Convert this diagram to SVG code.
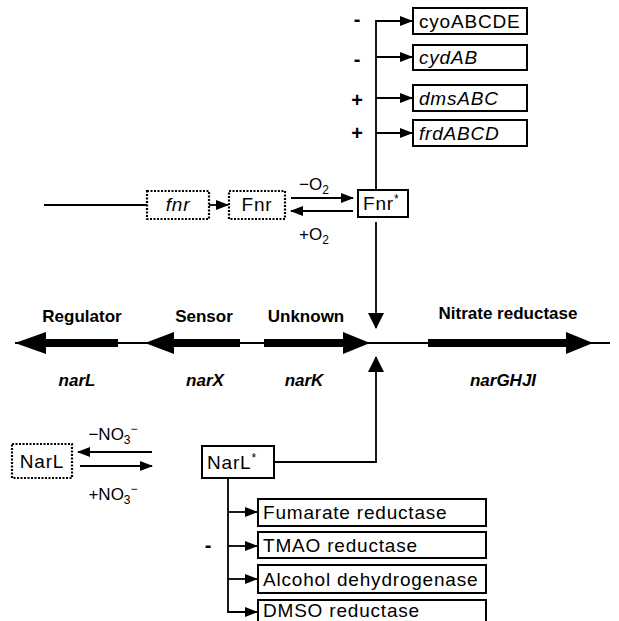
<svg xmlns="http://www.w3.org/2000/svg" width="619" height="621" viewBox="0 0 619 621">
<style>
text{font-family:"Liberation Sans",Arial,sans-serif;font-size:19px;fill:#000;letter-spacing:0.8px}
.it{font-style:italic}
.c{text-anchor:middle}
.lb{font-size:17px;font-weight:bold;letter-spacing:0}
.sg{font-size:20px;font-weight:bold;letter-spacing:0}
.eq{font-size:17px;letter-spacing:0}
.box{fill:#fff;stroke:#000;stroke-width:2}
.dot{fill:#fff;stroke:#000;stroke-width:2.2;stroke-dasharray:2 1.5}
.ln{fill:none;stroke:#000;stroke-width:1.8}
.thick{fill:#000;stroke:none}
.sup{font-size:12px;letter-spacing:0}
</style>
<defs>
<marker id="ah" markerWidth="13" markerHeight="10" refX="12" refY="5" orient="auto" markerUnits="userSpaceOnUse">
<path d="M0,0 L13,5 L0,10 Z" fill="#000"/>
</marker>
<marker id="ahb" markerWidth="16" markerHeight="16" refX="15" refY="8" orient="auto" markerUnits="userSpaceOnUse">
<path d="M0,0 L16,8 L0,16 Z" fill="#000"/>
</marker>
</defs>

<g id="connectors">
<path class="ln" d="M376,190 V21 H412" marker-end="url(#ah)"/>
<path class="ln" d="M376,57 H412" marker-end="url(#ah)"/>
<path class="ln" d="M376,98 H412" marker-end="url(#ah)"/>
<path class="ln" d="M376,133 H412" marker-end="url(#ah)"/>
<path class="ln" d="M44,205 H147"/>
<path class="ln" d="M209,205 H228" marker-end="url(#ah)"/>
<path class="ln" d="M291,198 H353" marker-end="url(#ah)"/>
<path class="ln" d="M353,211 H291" marker-end="url(#ah)"/>
<path class="ln" d="M376,222 V328" marker-end="url(#ahb)"/>
<path class="ln" d="M15,343 H610"/>
<polygon class="thick" points="15,343 46,332 46,339 118,339 118,347 46,347 46,354"/>
<polygon class="thick" points="145,343 174,332 174,339 240,339 240,347 174,347 174,354"/>
<polygon class="thick" points="370,343 343,332 343,339 264,339 264,347 343,347 343,354"/>
<polygon class="thick" points="593,343 566,332 566,339 428,339 428,347 566,347 566,354"/>
<path class="ln" d="M274,462 H376 V357" marker-end="url(#ahb)"/>
<path class="ln" d="M152,452 H78" marker-end="url(#ah)"/>
<path class="ln" d="M80,466 H152" marker-end="url(#ah)"/>
<path class="ln" d="M228,478 V612 H257" marker-end="url(#ah)"/>
<path class="ln" d="M228,512 H257" marker-end="url(#ah)"/>
<path class="ln" d="M228,546 H257" marker-end="url(#ah)"/>
<path class="ln" d="M228,579 H257" marker-end="url(#ah)"/>
</g>

<g id="cyoABCDE"><rect class="box" x="413" y="8" width="114" height="26"/><text x="419" y="28">cyoABCDE</text></g>
<g id="cydAB"><rect class="box" x="413" y="45" width="114" height="25"/><text class="it" x="419" y="64">cydAB</text></g>
<g id="dmsABC"><rect class="box" x="413" y="85" width="114" height="26"/><text class="it" x="419" y="105">dmsABC</text></g>
<g id="frdABCD"><rect class="box" x="413" y="120" width="114" height="26"/><text class="it" x="419" y="140">frdABCD</text></g>
<g id="signs-top">
<text class="c sg" x="357" y="26">-</text>
<text class="c sg" x="357" y="66">-</text>
<text class="c sg" x="357" y="107">+</text>
<text class="c sg" x="357" y="140">+</text>
</g>

<g id="fnr-gene"><rect class="dot" x="147" y="191" width="62" height="28"/><text class="it c" x="178" y="211">fnr</text></g>
<g id="Fnr"><rect class="dot" x="229" y="191" width="56" height="28"/><text class="c" x="257" y="211">Fnr</text></g>
<g id="Fnr-active"><rect class="box" x="358" y="190" width="50" height="27"/><text x="363" y="210">Fnr<tspan class="sup" dy="-7">*</tspan></text></g>
<g id="O2-labels">
<text class="c eq" x="314" y="190">−O<tspan class="sup" dy="4">2</tspan></text>
<text class="c eq" x="314" y="240">+O<tspan class="sup" dy="4">2</tspan></text>
</g>

<g id="gene-labels">
<text class="c lb" x="82" y="322">Regulator</text>
<text class="c lb" x="204" y="322">Sensor</text>
<text class="c lb" x="306" y="322">Unknown</text>
<text class="c lb" x="508" y="319">Nitrate reductase</text>
<text class="c it lb" x="77" y="386">narL</text>
<text class="c it lb" x="205" y="386">narX</text>
<text class="c it lb" x="304" y="386">narK</text>
<text class="c it lb" x="503" y="386">narGHJI</text>
</g>

<g id="NarL"><rect class="dot" x="12" y="444" width="60" height="34"/><text class="c" x="42" y="468">NarL</text></g>
<g id="NO3-labels">
<text class="c eq" x="113" y="440">−NO<tspan class="sup" dy="4">3</tspan><tspan class="sup" dy="-11">−</tspan></text>
<text class="c eq" x="113" y="500">+NO<tspan class="sup" dy="4">3</tspan><tspan class="sup" dy="-11">−</tspan></text>
</g>
<g id="NarL-active"><rect class="box" x="202" y="446" width="72" height="32"/><text x="207" y="469">NarL<tspan class="sup" dy="-7">*</tspan></text></g>

<g id="fumarate"><rect class="box" x="258" y="499" width="228" height="27"/><text x="263" y="519">Fumarate reductase</text></g>
<g id="tmao"><rect class="box" x="258" y="532" width="228" height="26"/><text x="263" y="552">TMAO reductase</text></g>
<g id="alcohol"><rect class="box" x="258" y="565" width="228" height="28"/><text x="263" y="586">Alcohol dehydrogenase</text></g>
<g id="dmso"><rect class="box" x="258" y="600" width="228" height="26"/><text x="263" y="617">DMSO reductase</text></g>
<text class="c sg" x="208" y="552">-</text>
</svg>
